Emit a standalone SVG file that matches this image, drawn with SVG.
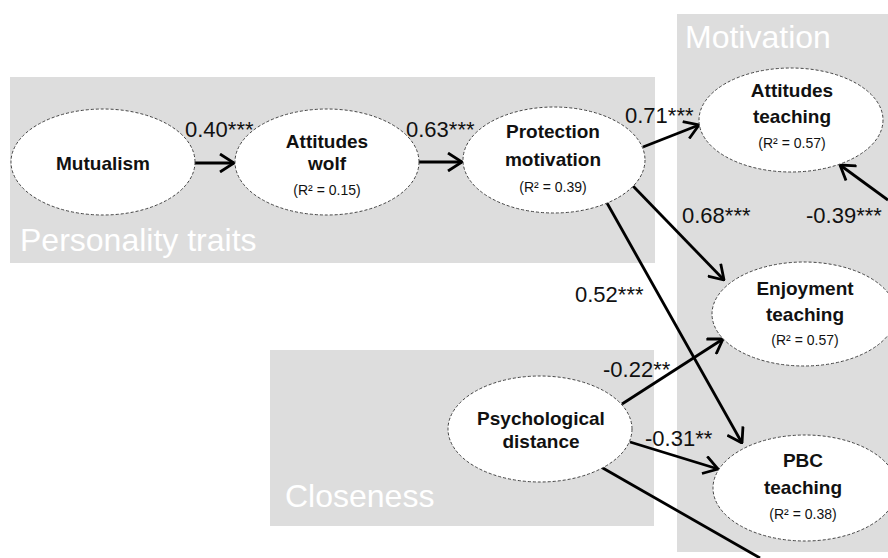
<svg xmlns="http://www.w3.org/2000/svg" width="888" height="558" viewBox="0 0 888 558">
<defs>
<style>
.grp{fill:#dddddd}
.glab{font-family:"Liberation Sans",Arial,sans-serif;font-size:32px;fill:#ffffff}
.node{fill:#ffffff;stroke:#444;stroke-width:1;stroke-dasharray:3 2}
.nt{font-family:"Liberation Sans",Arial,sans-serif;font-size:19px;font-weight:bold;fill:#111;text-anchor:middle}
.r2{font-family:"Liberation Sans",Arial,sans-serif;font-size:14px;fill:#111;text-anchor:middle}
.coef{font-family:"Liberation Sans",Arial,sans-serif;font-size:22px;fill:#111}
.edge{stroke:#000;stroke-width:2.8;fill:none}
.arr{marker-end:url(#ah)}
</style>
<marker id="ah" viewBox="0 0 16 20" refX="15" refY="10" markerWidth="16" markerHeight="20" markerUnits="userSpaceOnUse" orient="auto">
<path d="M1,1 L15,10 L1,19" fill="none" stroke="#000" stroke-width="2.8"/>
</marker>
</defs>
<rect width="888" height="558" fill="#ffffff"/>
<g id="groups">
<rect class="grp" x="10" y="77" width="645" height="186"/>
<rect class="grp" x="677" y="14" width="211" height="538"/>
<rect class="grp" x="270" y="350" width="384" height="176"/>
<text class="glab" x="20" y="251">Personality traits</text>
<text class="glab" x="685" y="48">Motivation</text>
<text class="glab" x="285" y="507">Closeness</text>
</g>
<g id="connectors">
<line class="edge arr" x1="195" y1="163" x2="234" y2="163"/>
<line class="edge arr" x1="418" y1="162" x2="462" y2="162"/>
<line class="edge arr" x1="643" y1="147" x2="699" y2="125"/>
<line class="edge arr" x1="633" y1="186" x2="724" y2="280"/>
<line class="edge arr" x1="607" y1="203" x2="742" y2="443"/>
<line class="edge arr" x1="888" y1="200" x2="840" y2="165"/>
<line class="edge arr" x1="622" y1="404" x2="723" y2="339"/>
<line class="edge arr" x1="630" y1="442" x2="718" y2="469"/>
<line class="edge" x1="601" y1="467" x2="760" y2="558"/>
<text class="coef" x="185" y="137">0.40***</text>
<text class="coef" x="406" y="137">0.63***</text>
<text class="coef" x="625" y="123">0.71***</text>
<text class="coef" x="682" y="223">0.68***</text>
<text class="coef" x="806" y="223">-0.39***</text>
<text class="coef" x="575" y="302">0.52***</text>
<text class="coef" x="603" y="377">-0.22**</text>
<text class="coef" x="645" y="446">-0.31**</text>
</g>
<g id="mutualism">
<ellipse class="node" cx="103" cy="162" rx="92" ry="53"/>
<text class="nt" x="103" y="170">Mutualism</text>
</g>
<g id="attitudes-wolf">
<ellipse class="node" cx="327" cy="162" rx="92" ry="53"/>
<text class="nt" x="327" y="148">Attitudes</text>
<text class="nt" x="327" y="170">wolf</text>
<text class="r2" x="327" y="195">(R² = 0.15)</text>
</g>
<g id="protection-motivation">
<ellipse class="node" cx="554" cy="160" rx="91" ry="53"/>
<text class="nt" x="553" y="138">Protection</text>
<text class="nt" x="553" y="166">motivation</text>
<text class="r2" x="553" y="192">(R² = 0.39)</text>
</g>
<g id="attitudes-teaching">
<ellipse class="node" cx="791" cy="120" rx="92" ry="52"/>
<text class="nt" x="792" y="97">Attitudes</text>
<text class="nt" x="792" y="123">teaching</text>
<text class="r2" x="792" y="148">(R² = 0.57)</text>
</g>
<g id="enjoyment-teaching">
<ellipse class="node" cx="804" cy="314" rx="92" ry="52"/>
<text class="nt" x="805" y="295">Enjoyment</text>
<text class="nt" x="805" y="321">teaching</text>
<text class="r2" x="805" y="345">(R² = 0.57)</text>
</g>
<g id="pbc-teaching">
<ellipse class="node" cx="805" cy="488" rx="92" ry="53"/>
<text class="nt" x="803" y="467">PBC</text>
<text class="nt" x="803" y="494">teaching</text>
<text class="r2" x="803" y="519">(R² = 0.38)</text>
</g>
<g id="psychological-distance">
<ellipse class="node" cx="540" cy="429" rx="92" ry="53"/>
<text class="nt" x="541" y="425">Psychological</text>
<text class="nt" x="541" y="448">distance</text>
</g>
</svg>
